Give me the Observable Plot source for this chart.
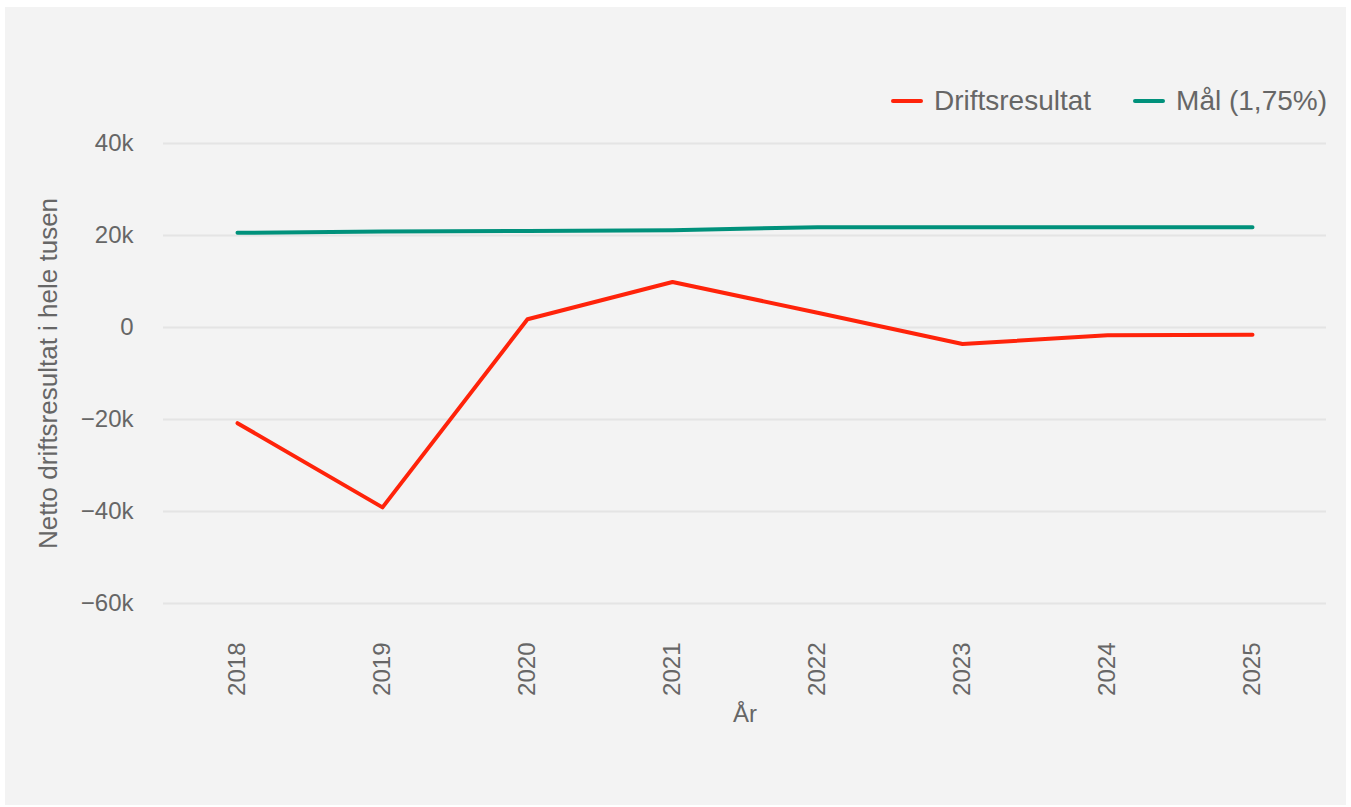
<!DOCTYPE html>
<html><head><meta charset="utf-8">
<script src="https://cdn.jsdelivr.net/npm/d3@7"></script>
<script src="https://cdn.jsdelivr.net/npm/@observablehq/plot@0.6"></script>
<style>
body{margin:0;background:#fff;font-family:"Liberation Sans",Arial,sans-serif;}
#panel{position:absolute;left:5px;top:7px;width:1341px;height:798px;background:#f3f3f3;overflow:hidden;}
#chart{position:absolute;left:0;top:0;}
#legend{position:absolute;right:19px;top:78px;display:flex;align-items:center;font-size:28px;line-height:32px;color:#666;}
.item{display:flex;align-items:center;}
.item + .item{margin-left:42px;}
.sw{width:32px;height:4px;border-radius:2px;margin-right:11px;}
</style></head>
<body>
<div id="panel">
  <div id="chart"></div>
  <div id="legend"></div>
</div>
<script>
const years = [2018, 2019, 2020, 2021, 2022, 2023, 2024, 2025];
const driftsresultat = [-20800, -39100, 1800, 9900, 3200, -3600, -1700, -1600];
const maal = [20580, 20870, 21000, 21160, 21810, 21810, 21810, 21810];
const yTicks = [-60000, -40000, -20000, 0, 20000, 40000];
const seriesNames = ["Driftsresultat", "Mål (1,75%)"];
const seriesColors = ["#ff230a", "#00917b"];
const xLabel = "År";
const yLabel = "Netto driftsresultat i hele tusen";

const rows = [];
years.forEach((yr, i) => {
  rows.push({year: yr, value: driftsresultat[i], series: seriesNames[0]});
  rows.push({year: yr, value: maal[i], series: seriesNames[1]});
});

const fmt = d => d === 0 ? "0" : (d < 0 ? "\u2212" : "") + Math.abs(d / 1000) + "k";

const chart = Plot.plot({
  width: 1341,
  height: 798,
  marginLeft: 158,
  marginRight: 20,
  marginTop: 136,
  marginBottom: 202,
  style: {background: "transparent", fontFamily: "'Liberation Sans', Arial, sans-serif", color: "#666"},
  x: {type: "point", domain: years, padding: 0.5},
  y: {domain: [-60000, 40000]},
  color: {domain: seriesNames, range: seriesColors},
  marks: [
    Plot.gridY(yTicks, {stroke: "#e4e4e4", strokeOpacity: 1, strokeWidth: 2}),
    Plot.axisY(yTicks, {tickSize: 0, tickPadding: 30, tickFormat: fmt, fontSize: 24, label: null, fill: "#666"}),
    Plot.axisX(years, {tickSize: 0, tickRotate: -90, tickPadding: 39, fontSize: 24, label: null, tickFormat: d => String(d), fill: "#666"}),
    Plot.text([yLabel], {frameAnchor: "left", rotate: -90, dx: -115, textAnchor: "middle", lineAnchor: "middle", fontSize: 26, fill: "#666"}),
    Plot.text([xLabel], {frameAnchor: "bottom", dy: 111, lineAnchor: "middle", fontSize: 24, fill: "#666"}),
    Plot.lineY(rows, {x: "year", y: "value", stroke: "series", z: "series", strokeWidth: 4, strokeLinecap: "round", strokeLinejoin: "round"})
  ]
});
document.getElementById("chart").appendChild(chart);

const legend = document.getElementById("legend");
seriesNames.forEach((name, i) => {
  const it = document.createElement("div");
  it.className = "item";
  const sw = document.createElement("div");
  sw.className = "sw";
  sw.style.background = seriesColors[i];
  const tx = document.createElement("span");
  tx.textContent = name;
  it.appendChild(sw); it.appendChild(tx);
  legend.appendChild(it);
});
</script>
</body></html>
